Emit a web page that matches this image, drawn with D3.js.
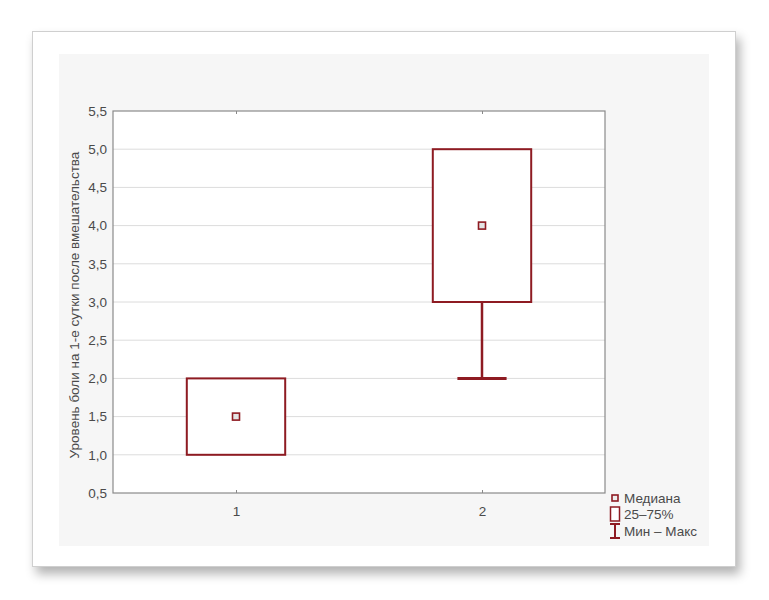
<!DOCTYPE html>
<html>
<head>
<meta charset="utf-8">
<script src="https://cdn.jsdelivr.net/npm/d3@7"></script>
<style>
html,body{margin:0;padding:0;background:#fff;}
#card{position:absolute;left:32px;top:31px;width:704px;height:536px;background:#fff;border:1px solid #cfcfcf;box-shadow:4px 7px 10px rgba(0,0,0,0.30);box-sizing:border-box;}
svg{position:absolute;left:0;top:0;}
</style>
</head>
<body>
<div id="card"></div>
<svg id="chart" width="769" height="600"></svg>
<script>
const groups = [1, 2];
const mins = [1.0, 2.0];
const q1 = [1.0, 3.0];
const medians = [1.5, 4.0];
const q3 = [2.0, 5.0];
const maxs = [2.0, 5.0];
const yTicks = [0.5, 1.0, 1.5, 2.0, 2.5, 3.0, 3.5, 4.0, 4.5, 5.0, 5.5];
const yLabel = "Уровень боли на 1-е сутки после вмешательства";
const legendItems = ["Медиана", "25–75%", "Мин – Макс"];

(function(){
const red = "#8e1b22";
const font = "'Liberation Sans', Arial, sans-serif";
const fs = 13.5;
const tc = "#4a4a4a";
const svg = d3.select("#chart");

// inner light-gray panel
svg.append("rect").attr("x",59).attr("y",54).attr("width",650).attr("height",492).attr("fill","#f6f6f6");

const pL = 113, pR = 605, pT = 111, pB = 493;
const x = d3.scaleLinear().domain([0.5, 2.5]).range([pL, pR]);
const y = d3.scaleLinear().domain([0.5, 5.5]).range([pB, pT]);

svg.append("rect").attr("x",pL).attr("y",pT).attr("width",pR-pL).attr("height",pB-pT).attr("fill","#fff");

// gridlines
svg.append("g").selectAll("line").data(yTicks.slice(1,-1)).join("line")
  .attr("x1",pL).attr("x2",pR).attr("y1",d=>y(d)).attr("y2",d=>y(d))
  .attr("stroke","#dcdcdc").attr("stroke-width",1);

// axes
const fmt = d => d3.format(".1f")(d).replace(".", ",");
const yAxis = svg.append("g").attr("transform",`translate(${pL},0)`)
  .call(d3.axisLeft(y).tickValues(yTicks).tickFormat(fmt).tickSize(0).tickPadding(6));
const xAxis = svg.append("g").attr("transform",`translate(0,${pB})`)
  .call(d3.axisBottom(x).tickValues(groups).tickFormat(d3.format("d")).tickSizeInner(-3).tickSizeOuter(0).tickPadding(13));
const xTop = svg.append("g").attr("transform",`translate(0,${pT})`)
  .call(d3.axisTop(x).tickValues(groups).tickFormat("").tickSizeInner(-3).tickSizeOuter(0));
[yAxis, xAxis, xTop].forEach(g => {
  g.select(".domain").remove();
  g.selectAll("line").attr("stroke","#888");
  g.selectAll("text").attr("font-family",font).attr("font-size",fs).attr("fill",tc);
});
// frame
svg.append("rect").attr("x",pL).attr("y",pT).attr("width",pR-pL).attr("height",pB-pT)
  .attr("fill","none").attr("stroke","#8a8a8a").attr("stroke-width",1.2);

// y label
svg.append("text").attr("transform",`translate(79,${(pT+pB)/2 + 3}) rotate(-90)`)
  .attr("text-anchor","middle").attr("font-family",font).attr("font-size",fs).attr("fill",tc).text(yLabel);

// boxes
const bw = 0.2, cap = 0.1;
const data = groups.map((g,i)=>({g, min:mins[i], q1:q1[i], med:medians[i], q3:q3[i], max:maxs[i]}));
const gb = svg.append("g");
data.forEach(d => {
  if (d.min < d.q1) {
    gb.append("line").attr("x1",x(d.g)).attr("x2",x(d.g)).attr("y1",y(d.q1)).attr("y2",y(d.min)).attr("stroke",red).attr("stroke-width",2.5);
    gb.append("line").attr("x1",x(d.g-cap)).attr("x2",x(d.g+cap)).attr("y1",y(d.min)).attr("y2",y(d.min)).attr("stroke",red).attr("stroke-width",3);
  }
  if (d.max > d.q3) {
    gb.append("line").attr("x1",x(d.g)).attr("x2",x(d.g)).attr("y1",y(d.q3)).attr("y2",y(d.max)).attr("stroke",red).attr("stroke-width",2.5);
    gb.append("line").attr("x1",x(d.g-cap)).attr("x2",x(d.g+cap)).attr("y1",y(d.max)).attr("y2",y(d.max)).attr("stroke",red).attr("stroke-width",3);
  }
  gb.append("rect").attr("x",x(d.g-bw)).attr("y",y(d.q3)).attr("width",x(d.g+bw)-x(d.g-bw)).attr("height",y(d.q1)-y(d.q3))
    .attr("fill","#fff").attr("stroke",red).attr("stroke-width",2);
  gb.append("rect").attr("x",x(d.g)-3.5).attr("y",y(d.med)-3.5).attr("width",7).attr("height",7)
    .attr("fill","#e4e4e4").attr("stroke",red).attr("stroke-width",1.6);
});

// legend
const lx = 615, ly = [498, 514, 531];
const lg = svg.append("g");
lg.append("rect").attr("x",lx-3).attr("y",ly[0]-3).attr("width",6).attr("height",6).attr("fill","#eee").attr("stroke",red).attr("stroke-width",1.6);
lg.append("rect").attr("x",lx-4.5).attr("y",ly[1]-7).attr("width",9).attr("height",14).attr("fill","#fff").attr("stroke",red).attr("stroke-width",1.5);
lg.append("line").attr("x1",lx).attr("x2",lx).attr("y1",ly[2]-7).attr("y2",ly[2]+7).attr("stroke",red).attr("stroke-width",2);
lg.append("line").attr("x1",lx-5).attr("x2",lx+5).attr("y1",ly[2]-7).attr("y2",ly[2]-7).attr("stroke",red).attr("stroke-width",2);
lg.append("line").attr("x1",lx-5).attr("x2",lx+5).attr("y1",ly[2]+7).attr("y2",ly[2]+7).attr("stroke",red).attr("stroke-width",2);
lg.selectAll("text").data(legendItems).join("text")
  .attr("x",624).attr("y",(d,i)=>ly[i]).attr("dy","0.35em")
  .attr("font-family",font).attr("font-size",fs).attr("fill",tc).text(d=>d);
})();
</script>
</body>
</html>
